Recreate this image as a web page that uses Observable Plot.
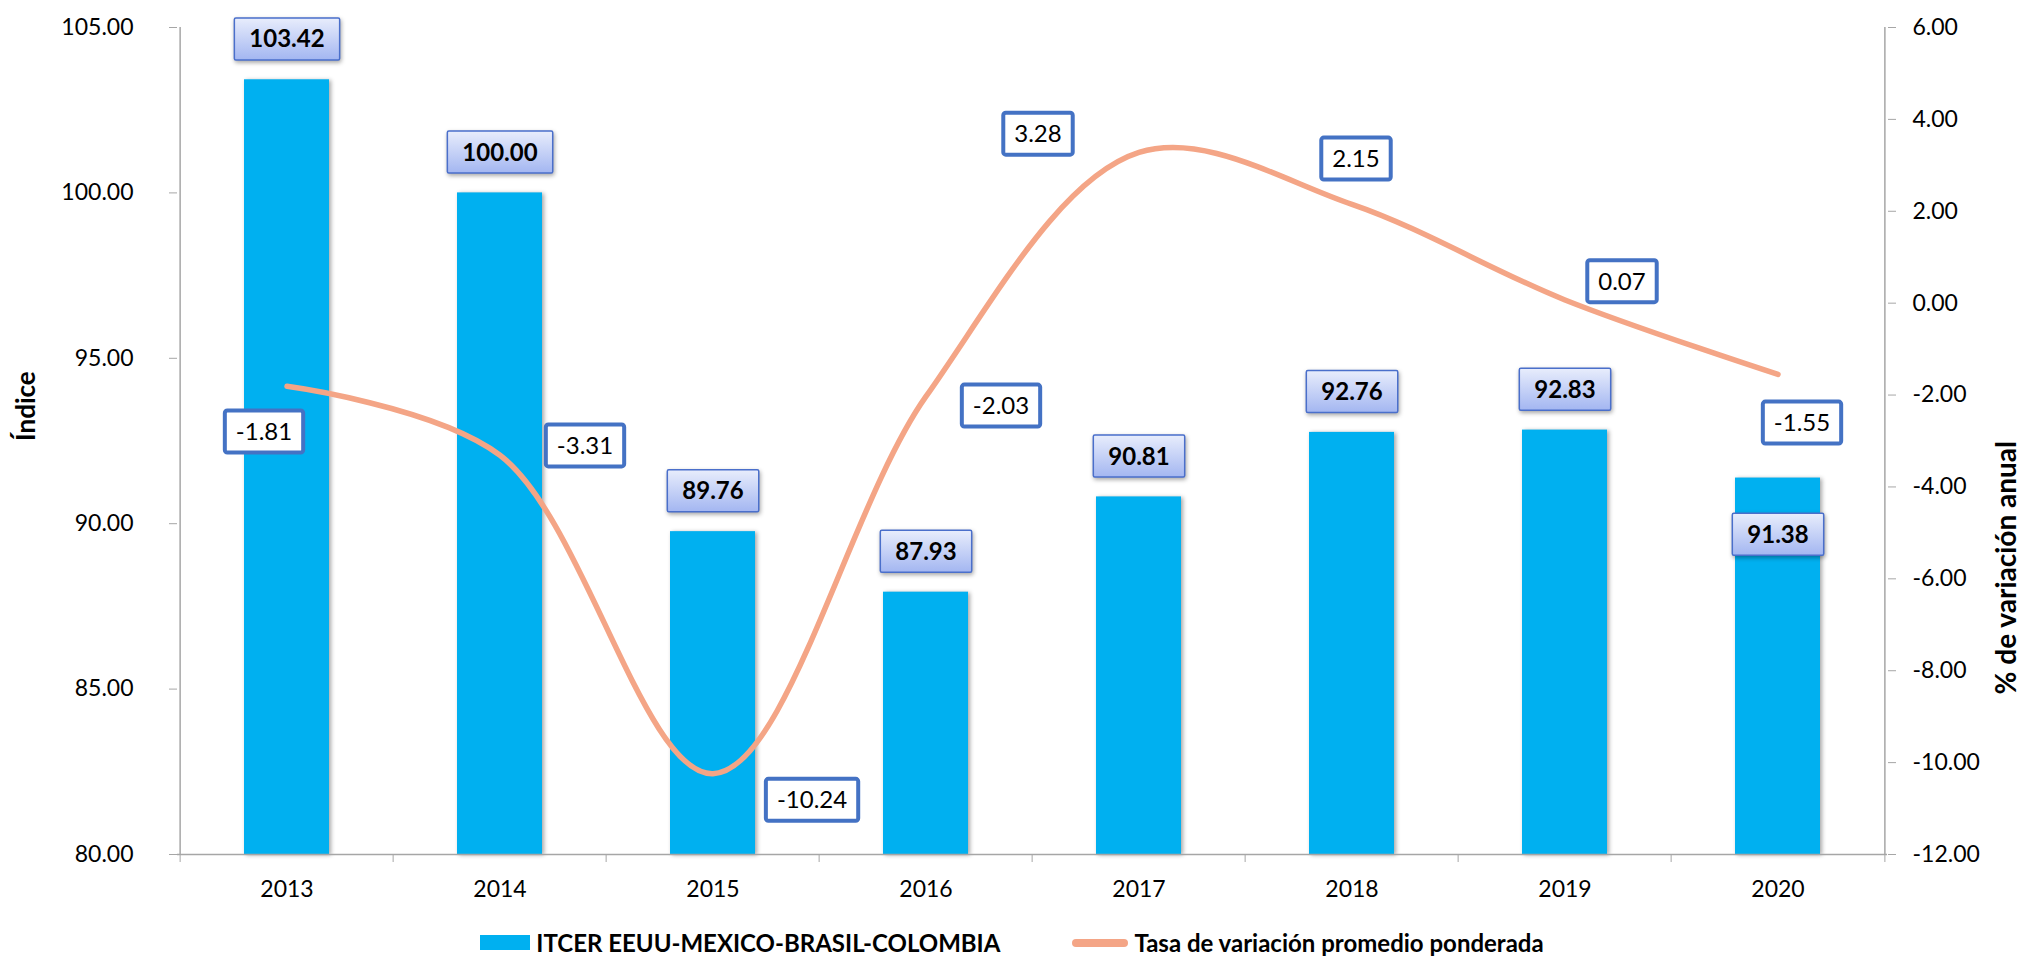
<!DOCTYPE html>
<html>
<head>
<meta charset="utf-8">
<script src="https://cdn.jsdelivr.net/npm/d3@7"></script>
<script src="https://cdn.jsdelivr.net/npm/@observablehq/plot@0.6"></script>
<style>
  html, body { margin: 0; padding: 0; background: #fff; }
  body { width: 2024px; height: 957px; overflow: hidden; font-family: Lato, "Liberation Sans", sans-serif; color: #000; }
  #chart svg { display: block; }
  g[aria-label="bar"] rect { filter: drop-shadow(2px 1px 2px rgba(0,0,0,0.35)); }
  .idx-box { filter: drop-shadow(1px 2px 2px rgba(0,0,0,0.35)); }
  .legend { position: relative; height: 29px; display: flex; justify-content: center; align-items: center; gap: 72px; font-weight: bold; font-size: 24px; }
  .legend .item { display: flex; align-items: center; gap: 6px; }
  .legend .sw-bar { width: 50px; height: 15px; background: #00B0F0; }
  .legend .sw-line { width: 56px; height: 8px; border-radius: 4px; background: #F4A586; }
</style>
</head>
<body>
<div id="chart"></div>
<div class="legend">
  <div class="item"><span class="sw-bar"></span><span>ITCER EEUU-MEXICO-BRASIL-COLOMBIA</span></div>
  <div class="item"><span class="sw-line"></span><span>Tasa de variación promedio ponderada</span></div>
</div>
<script>
// ---- data ----
const years = ["2013", "2014", "2015", "2016", "2017", "2018", "2019", "2020"];
const indexValues = [103.42, 100.00, 89.76, 87.93, 90.81, 92.76, 92.83, 91.38];
const rateValues = [-1.81, -3.31, -10.24, -2.03, 3.28, 2.15, 0.07, -1.55];
const leftTicks = [80, 85, 90, 95, 100, 105];
const rightTicks = [-12, -10, -8, -6, -4, -2, 0, 2, 4, 6];
const leftTitle = "Índice";
const rightTitle = "% de variación anual";

// ---- layout (label placement offsets, px) ----
const indexLabelDy = [-40, -40, -40, -40, -40, -40, -40, 57];
const rateLabelDx = [-23, 85, 99, 75, -101, 4, 57, 24];
const rateLabelDy = [46, -9, 27, 10, -18, -45, -18, 49];

const W = 2024, H = 928;
const ML = 177, MR = 137, MT = 27, MB = 74;
const step = (W - ML - MR) / years.length;

const leftDomain = [leftTicks[0], leftTicks[leftTicks.length - 1]];
const rightDomain = [rightTicks[0], rightTicks[rightTicks.length - 1]];
const toLeft = v => leftDomain[0] + (v - rightDomain[0]) * (leftDomain[1] - leftDomain[0]) / (rightDomain[1] - rightDomain[0]);
const fromLeft = y => rightDomain[0] + (y - leftDomain[0]) * (rightDomain[1] - rightDomain[0]) / (leftDomain[1] - leftDomain[0]);

const data = years.map((year, i) => ({year, index: indexValues[i], rate: rateValues[i], i}));

const axisColor = "#A6A6A6";
const fontFamily = "Lato, 'Liberation Sans', sans-serif";

const marks = [
  Plot.barY(data, {x: "year", y1: leftDomain[0], y2: "index", fill: "#00B0F0"}),
  Plot.ruleY([leftDomain[0]], {stroke: axisColor, strokeWidth: 1.5}),
  Plot.ruleX([years[0]], {x: d => d, y1: leftDomain[0], y2: leftDomain[1], dx: -step / 2, stroke: axisColor, strokeWidth: 1.5}),
  Plot.ruleX([years[years.length - 1]], {x: d => d, y1: leftDomain[0], y2: leftDomain[1], dx: step / 2, stroke: axisColor, strokeWidth: 1.5}),
  Plot.axisY({ticks: leftTicks, tickFormat: d => d.toFixed(2), tickSize: 8, tickPadding: 36, fontSize: 23, stroke: axisColor, label: null}),
  Plot.axisY({anchor: "right", ticks: rightTicks.map(toLeft), tickFormat: d => fromLeft(d).toFixed(2), tickSize: 8, tickPadding: 17, fontSize: 23, stroke: axisColor, label: null}),
  Plot.axisX({tickSize: 8, dx: -step / 2, tickFormat: () => "", stroke: axisColor, label: null}),
  Plot.axisX({ticks: [years[years.length - 1]], tickSize: 8, dx: step / 2, tickFormat: () => "", stroke: axisColor, label: null}),
  Plot.axisX({tickSize: 0, tickPadding: 26, fontSize: 23, label: null}),
  Plot.line(data, {x: "year", y: d => toLeft(d.rate), curve: "catmull-rom", stroke: "#F4A586", strokeWidth: 5.5, strokeLinecap: "round", strokeLinejoin: "round"}),
  Plot.text([leftTitle], {text: d => d, frameAnchor: "left", dx: -151, rotate: -90, fontSize: 26, fontWeight: "bold"}),
  Plot.text([rightTitle], {text: d => d, frameAnchor: "right", dx: 120, rotate: -90, fontSize: 28, fontWeight: "bold"}),
  ...data.map((d, i) => Plot.text([d], {
    x: "year", y: "index", text: v => v.index.toFixed(2), dy: indexLabelDy[i],
    fontSize: 24, fontWeight: "bold", fill: "#000", ariaDescription: "idx-label"
  })),
  ...data.map((d, i) => Plot.text([d], {
    x: "year", y: v => toLeft(v.rate), text: v => v.rate.toFixed(2), dx: rateLabelDx[i], dy: rateLabelDy[i],
    fontSize: 24, fill: "#000", ariaDescription: "rate-label"
  }))
];

const svg = Plot.plot({
  width: W, height: H,
  marginLeft: ML, marginRight: MR, marginTop: MT, marginBottom: MB,
  style: {fontFamily, fontSize: "23px", color: "#000", background: "#fff", overflow: "visible"},
  x: {type: "band", domain: years, paddingInner: 0.6, paddingOuter: 0.3},
  y: {domain: leftDomain},
  marks
});
document.getElementById("chart").append(svg);

// ---- label boxes ----
const NS = "http://www.w3.org/2000/svg";
const defs = document.createElementNS(NS, "defs");
defs.innerHTML = '<linearGradient id="lblGrad" x1="0" y1="0" x2="0" y2="1"><stop offset="0%" stop-color="#E8EDFC"/><stop offset="100%" stop-color="#A3B6F1"/></linearGradient>';
svg.insertBefore(defs, svg.firstChild);

function boxify(label, o) {
  svg.querySelectorAll(`[aria-description="${label}"] text`).forEach(t => {
    const bb = t.getBBox();
    const r = document.createElementNS(NS, "rect");
    const cy = bb.y + bb.height / 2 + o.shift;
    r.setAttribute("x", bb.x - o.padX);
    r.setAttribute("y", cy - o.h / 2);
    r.setAttribute("width", bb.width + 2 * o.padX);
    r.setAttribute("height", o.h);
    r.setAttribute("rx", o.rx);
    r.setAttribute("fill", o.fill);
    r.setAttribute("stroke", o.stroke);
    r.setAttribute("stroke-width", o.sw);
    if (o.cls) r.setAttribute("class", o.cls);
    const tr = t.getAttribute("transform");
    if (tr) r.setAttribute("transform", tr);
    t.parentNode.insertBefore(r, t);
  });
}
boxify("idx-label", {padX: 15, h: 42, rx: 1.5, fill: "url(#lblGrad)", stroke: "#4A6FCB", sw: 1.5, cls: "idx-box", shift: 1});
boxify("rate-label", {padX: 11, h: 42, rx: 2.5, fill: "#fff", stroke: "#4472C4", sw: 4, shift: 1});
</script>
</body>
</html>
